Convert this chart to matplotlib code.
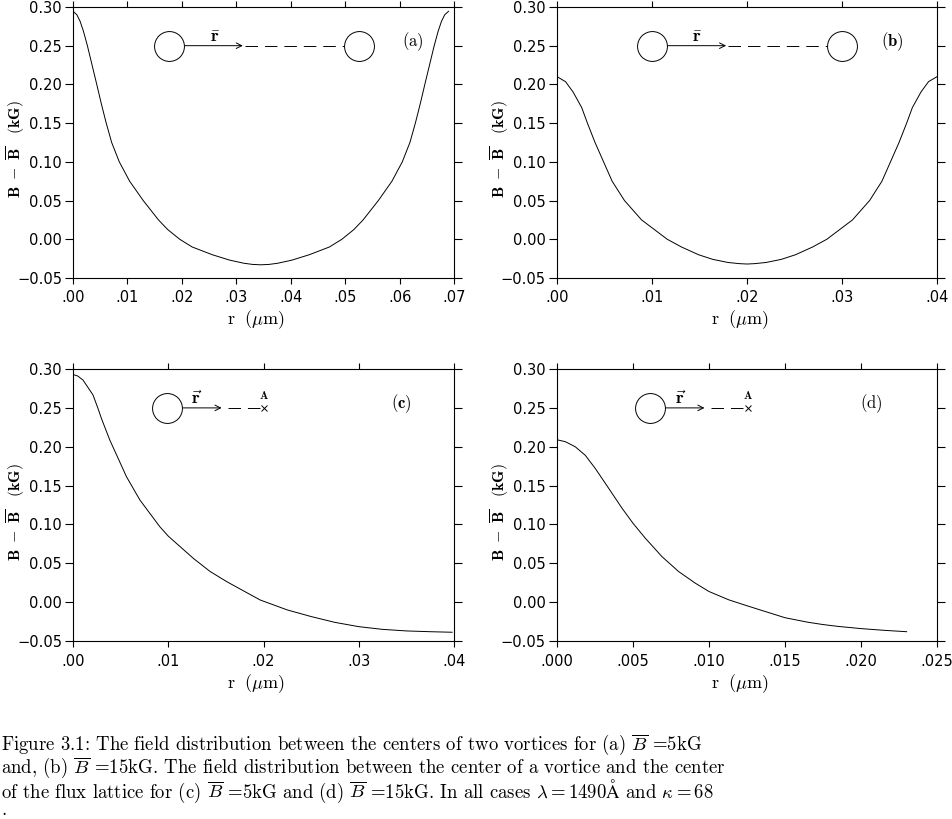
import matplotlib.pyplot as plt

plt.rcParams['mathtext.fontset'] = 'cm'
plt.rcParams['lines.scale_dashes'] = False
plt.rcParams['font.family'] = 'DejaVu Sans'

# (a) between two vortices, B = 5 kG
r_a = [0, 0.0007, 0.0013, 0.0019, 0.00264, 0.0035, 0.00436, 0.0052, 0.0061, 0.0071,
       0.0085, 0.0104, 0.0129, 0.0157, 0.0174, 0.0196, 0.0219, 0.0256, 0.0288, 0.0314,
       0.0330, 0.0345,
       0.0360, 0.0376, 0.0402, 0.0434, 0.0471, 0.0494, 0.0516, 0.0533, 0.0561, 0.0586,
       0.0605, 0.0619, 0.0629, 0.0638, 0.06464, 0.0655, 0.06636, 0.0671, 0.0677, 0.0683,
       0.069]
b_a = [0.2944, 0.290, 0.2815, 0.269, 0.250, 0.225, 0.200, 0.175, 0.150, 0.125,
       0.100, 0.075, 0.050, 0.025, 0.0125, 0.000, -0.010, -0.020, -0.027, -0.031,
       -0.0325, -0.033,
       -0.0325, -0.031, -0.027, -0.020, -0.010, 0.000, 0.0125, 0.025, 0.050, 0.075,
       0.100, 0.125, 0.150, 0.175, 0.200, 0.225, 0.250, 0.269, 0.2815, 0.290,
       0.2944]

# (b) between two vortices, B = 15 kG
r_b = [0, 0.0009, 0.0017, 0.0026, 0.0032, 0.0040, 0.0049, 0.0058, 0.0071, 0.0089,
       0.0116, 0.0131, 0.0149, 0.0164, 0.0180, 0.0192, 0.0200,
       0.0208, 0.0220, 0.0236, 0.0251, 0.0269, 0.0284, 0.0311, 0.0329, 0.0342,
       0.0351, 0.0360, 0.0368, 0.0374, 0.0383, 0.0391, 0.0400]
b_b = [0.210, 0.2035, 0.190, 0.170, 0.150, 0.125, 0.100, 0.075, 0.050, 0.025,
       0.000, -0.010, -0.020, -0.026, -0.030, -0.0315, -0.032,
       -0.0315, -0.030, -0.026, -0.020, -0.010, 0.000, 0.025, 0.050, 0.075,
       0.100, 0.125, 0.150, 0.170, 0.190, 0.2035, 0.210]

# (c) vortex centre to lattice centre, B = 5 kG
r_c = [0, 0.0005, 0.00105, 0.0021, 0.0026, 0.00298, 0.00386, 0.00474, 0.00561, 0.00702,
       0.00912, 0.0100, 0.01263, 0.01439, 0.01614, 0.01965, 0.0225, 0.025, 0.0275, 0.030,
       0.0325, 0.035, 0.0375, 0.0398]
b_c = [0.293, 0.291, 0.2858, 0.2666, 0.250, 0.2365, 0.2087, 0.185, 0.1615, 0.1315,
       0.097, 0.085, 0.0564, 0.0395, 0.0264, 0.0028, -0.010, -0.0185, -0.026, -0.0315,
       -0.035, -0.037, -0.038, -0.0387]

# (d) vortex centre to lattice centre, B = 15 kG
r_d = [0, 0.00055, 0.0012, 0.00186, 0.00252, 0.0034, 0.00428, 0.005, 0.00581, 0.0069,
       0.008, 0.0091, 0.010, 0.0113, 0.0124, 0.0135, 0.015, 0.0165, 0.0175, 0.0185,
       0.020, 0.0215, 0.023]
b_d = [0.209, 0.2065, 0.200, 0.189, 0.172, 0.1465, 0.1208, 0.1015, 0.0823, 0.0587,
       0.0394, 0.0244, 0.0137, 0.003, -0.004, -0.0108, -0.020, -0.0258, -0.0288, -0.0312,
       -0.034, -0.0362, -0.038]

y_ticks = [-0.05, 0.0, 0.05, 0.10, 0.15, 0.20, 0.25, 0.30]
y_labels = ['\u22120.05', '0.00', '0.05', '0.10', '0.15', '0.20', '0.25', '0.30']
x_ticks_a = [0, 0.01, 0.02, 0.03, 0.04, 0.05, 0.06, 0.07]
x_labels_a = ['.00', '.01', '.02', '.03', '.04', '.05', '.06', '.07']
x_ticks_b = [0, 0.01, 0.02, 0.03, 0.04]
x_labels_b = ['.00', '.01', '.02', '.03', '.04']
x_ticks_d = [0, 0.005, 0.010, 0.015, 0.020, 0.025]
x_labels_d = ['.000', '.005', '.010', '.015', '.020', '.025']

panel_tags = ['(a)', '(b)', '(c)', '(d)']

fig = plt.figure(figsize=(9.52, 8.19), dpi=100)
ax_a = fig.add_axes([0.0767, 0.6606, 0.4002, 0.3309])
ax_b = fig.add_axes([0.5851, 0.6606, 0.3992, 0.3309])
ax_c = fig.add_axes([0.0767, 0.2173, 0.4002, 0.3321])
ax_d = fig.add_axes([0.5851, 0.2173, 0.3992, 0.3321])

setup = [(ax_a, r_a, b_a, x_ticks_a, x_labels_a),
         (ax_b, r_b, b_b, x_ticks_b, x_labels_b),
         (ax_c, r_c, b_c, x_ticks_b, x_labels_b),
         (ax_d, r_d, b_d, x_ticks_d, x_labels_d)]

for ax, r, b, xt, xl in setup:
    ax.plot(r, b, color='black', lw=0.7)
    ax.set_xlim(xt[0], xt[-1])
    ax.set_ylim(-0.05, 0.30)
    ax.set_xticks(xt)
    ax.set_xticklabels(xl)
    ax.set_yticks(y_ticks)
    ax.set_yticklabels(y_labels)
    ax.tick_params(axis='y', direction='out', length=5.5, width=0.8, pad=2.5,
                   right=True, labelsize=10.5)
    ax.tick_params(axis='x', direction='out', length=4, width=0.8, pad=5,
                   top=True, labelsize=10.5)
    for s in ax.spines.values():
        s.set_linewidth(0.8)
    ax.set_xlabel(r'$\mathrm{r}\ \ (\mu\mathrm{m})$', fontsize=13, va='center')
    ax.xaxis.set_label_coords(0.48, -0.155)
    ax.set_ylabel(r'$\mathbf{B}\ -\ \overline{\mathbf{B}}\ \ \ \mathbf{(kG)}$',
                  fontsize=11.5, va='center')
    ax.yaxis.set_label_coords(-0.15, 0.475)

label_x_txt = {ax_a: r'$\bar{\mathbf{r}}$', ax_b: r'$\bar{\mathbf{r}}$',
               ax_c: r'$\vec{\mathbf{r}}$', ax_d: r'$\vec{\mathbf{r}}$'}


def vortex(ax, x):
    ax.plot([x], [0.25], marker='o', ms=21.5, mfc='white', mec='black', mew=0.7,
            zorder=5, clip_on=False)


def arrow(ax, x0, x1, label_x):
    ax.annotate('', xy=(x1, 0.25), xytext=(x0, 0.25),
                arrowprops=dict(arrowstyle='->', lw=0.7, color='black',
                                shrinkA=0, shrinkB=0, mutation_scale=10))
    ax.text(label_x, 0.261, label_x_txt[ax], fontsize=13, ha='center', va='center')


def dashed(ax, x0, x1):
    ax.plot([x0, x1], [0.25, 0.25], color='black', lw=0.7, dashes=(9, 5))


# (a)
arrow(ax_a, 0.0176, 0.0312, 0.0261)
dashed(ax_a, 0.0316, 0.0525)
vortex(ax_a, 0.0176)
vortex(ax_a, 0.0525)
# (b)
arrow(ax_b, 0.010, 0.0178, 0.0148)
dashed(ax_b, 0.018, 0.030)
vortex(ax_b, 0.010)
vortex(ax_b, 0.030)
# (c)
arrow(ax_c, 0.0099, 0.0156, 0.0130)
dashed(ax_c, 0.0163, 0.0199)
vortex(ax_c, 0.0099)
ax_c.plot([0.0200], [0.25], marker='x', ms=5, mew=0.7, color='black')
ax_c.text(0.0200, 0.266, r'$\mathbf{A}$', fontsize=8, ha='center', va='center')
# (d)
arrow(ax_d, 0.0061, 0.0097, 0.0081)
dashed(ax_d, 0.0101, 0.01245)
vortex(ax_d, 0.0061)
ax_d.plot([0.01254], [0.25], marker='x', ms=5, mew=0.7, color='black')
ax_d.text(0.01254, 0.266, r'$\mathbf{A}$', fontsize=8, ha='center', va='center')

for ax, x, tag, bold in [(ax_a, 0.0625, panel_tags[0], False),
                         (ax_b, 0.0353, panel_tags[1], True),
                         (ax_c, 0.0345, panel_tags[2], True),
                         (ax_d, 0.02066, panel_tags[3], False)]:
    txt = r'$\mathbf{%s}$' % tag if bold else r'$\mathrm{%s}$' % tag
    ax.text(x, 0.255, txt, fontsize=12, ha='center', va='center')

caption = [
    r'Figure 3.1: The field distribution between the centers of two vortices for (a) $\overline{B}$ =5kG',
    r'and, (b) $\overline{B}$ =15kG. The field distribution between the center of a vortice and the center',
    r'of the flux lattice for (c) $\overline{B}$ =5kG and (d) $\overline{B}$ =15kG. In all cases $\lambda = 1490\mathrm{Å}$ and $\kappa = 68$',
]
caption_y = [745, 768, 791]
for line, yp in zip(caption, caption_y):
    fig.text(0.001, 1 - yp / 819, line, fontsize=13.5, ha='left', va='center',
             family=['cmr10', 'DejaVu Serif'])
# stray full stop on its own line, as in the original
fig.text(0.001, 1 - 815 / 819, '.', fontsize=13.5, ha='left', va='baseline',
         family=['cmr10', 'DejaVu Serif'])

fig.savefig('out.png', dpi=100)
